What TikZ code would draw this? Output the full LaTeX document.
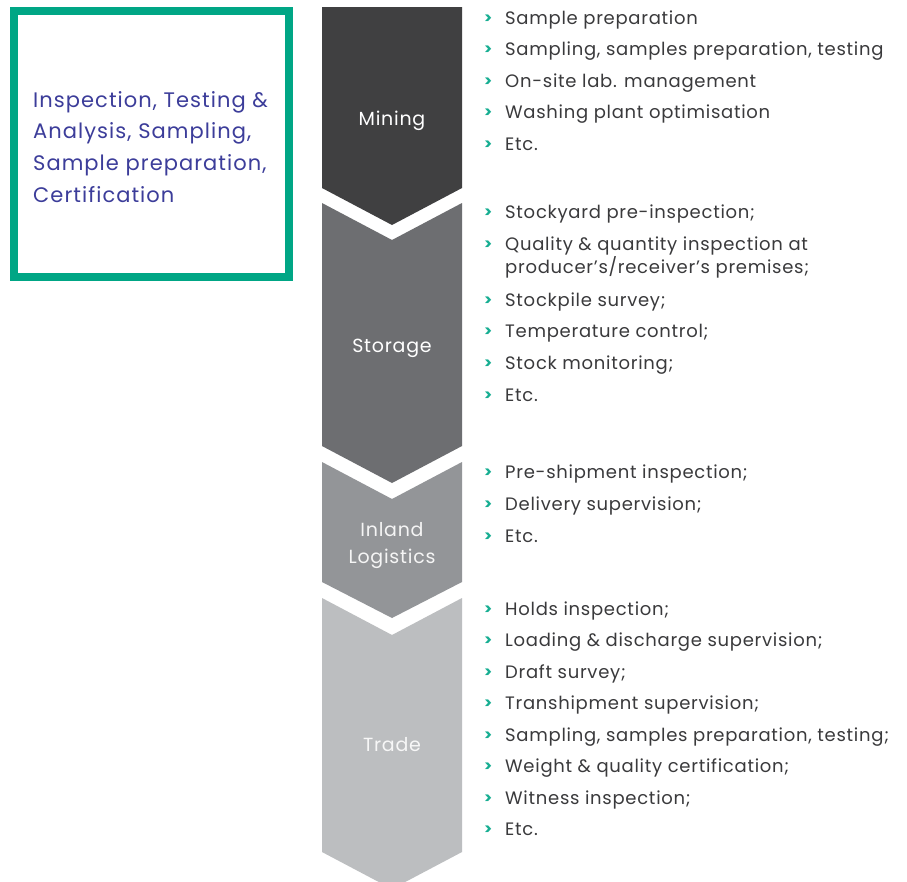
\documentclass[tikz,border=0pt]{standalone}
\usepackage{fontspec}
\setmainfont{Poppins}
\newfontfamily\listfont[LetterSpace=4]{Poppins}
\newfontfamily\leftfont[LetterSpace=5]{Poppins}
\definecolor{boxgreen}{HTML}{00A685}
\definecolor{bulletgreen}{HTML}{17AE92}
\definecolor{purpletext}{HTML}{3C3D9A}
\definecolor{listtext}{HTML}{3A3A3C}
\definecolor{cMining}{HTML}{404041}
\definecolor{cStorage}{HTML}{6D6E71}
\definecolor{cInland}{HTML}{939598}
\definecolor{cTrade}{HTML}{BCBEC0}
\tikzset{
  item/.style={anchor=base west, inner sep=0pt, text=listtext, font=\listfont\fontsize{18}{21}\selectfont},
  bul/.style={anchor=base west, inner sep=0pt, text=bulletgreen, font=\bfseries\fontsize{15}{18}\selectfont},
  stage/.style={anchor=base, inner sep=0pt, font=\listfont\fontsize{19}{27}\selectfont, align=center},
  lefttext/.style={anchor=base west, inner sep=0pt, text=purpletext, font=\leftfont\fontsize{21}{24}\selectfont},
}
\begin{document}
\begin{tikzpicture}[x=1pt,y=-1pt]
\useasboundingbox (0,0) rectangle (907,881);
\fill[white] (0,0) rectangle (907,881);
% green box
\draw[boxgreen, line width=8pt] (14,11) rectangle (289,277);
\node[lefttext] (l1) at (33,107) {Inspection, Testing \&};
\node[lefttext] (l2) at (33,138) {Analysis, Sampling,};
\node[lefttext] (l3) at (33,170) {Sample preparation,};
\node[lefttext] (l4) at (33,202) {Certification};
% chevrons
\begin{scope}
\clip (0,0) rectangle (907,881);
\fill[cMining] (322,7) -- (462,7) -- (462,188) -- (392,225) -- (322,188) -- cycle;
\fill[cStorage] (322,203) -- (392,240) -- (462,203) -- (462,446) -- (392,483) -- (322,446) -- cycle;
\fill[cInland] (322,462) -- (392,499) -- (462,462) -- (462,582) -- (392,618) -- (322,582) -- cycle;
\fill[cTrade] (322,598) -- (392,635) -- (462,598) -- (462,852) -- (392,889) -- (322,852) -- cycle;
\end{scope}
\node[stage, text=white] (mining) at (392,125) {Mining};
\node[stage, text=white] (storage) at (392,352) {Storage};
\node[stage, text=white!96!black] (inland1) at (392,536) {Inland};
\node[stage, text=white!96!black] (inland2) at (392,563) {Logistics};
\node[stage, text=white!97!black] (trade) at (392,751) {Trade};
% lists
\foreach \y/\t [count=\i] in {
  24/Sample preparation,
  55.5/{Sampling, samples preparation, testing},
  87/On-site lab. management,
  118.5/Washing plant optimisation,
  150/Etc.,
  218/Stockyard pre-inspection;,
  250/Quality \& quantity inspection at,
  306/Stockpile survey;,
  337/Temperature control;,
  369/Stock monitoring;,
  401/Etc.,
  478/Pre-shipment inspection;,
  510/Delivery supervision;,
  542/Etc.,
  615/Holds inspection;,
  646/Loading \& discharge supervision;,
  678/Draft survey;,
  709/Transhipment supervision;,
  741/{Sampling, samples preparation, testing;},
  772/Weight \& quality certification;,
  804/Witness inspection;,
  835/Etc.}{
  \node[bul] (b\i) at (484,\y-1) {>};
  \node[item] (t\i) at (505,\y) {\t};
}
\node[item] (t7b) at (505,273) {producer’s/receiver’s premises;};
\end{tikzpicture}
\end{document}
